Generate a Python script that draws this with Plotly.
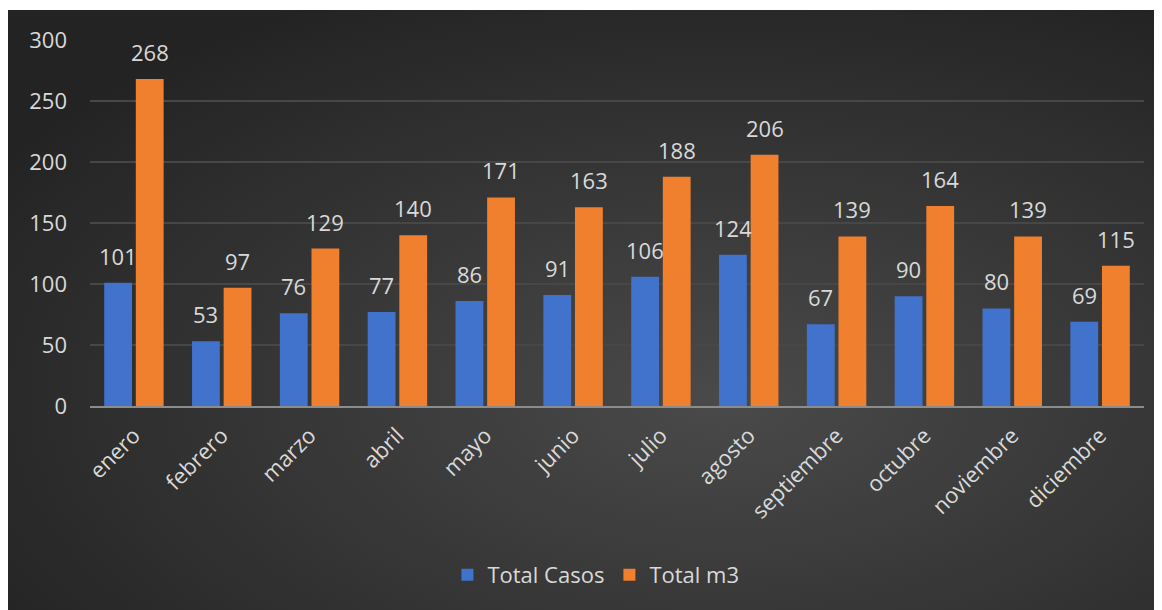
import base64
import plotly.graph_objects as go

meses = ["enero", "febrero", "marzo", "abril", "mayo", "junio", "julio",
         "agosto", "septiembre", "octubre", "noviembre", "diciembre"]
total_casos = [101, 53, 76, 77, 86, 91, 106, 124, 67, 90, 80, 69]
total_m3 = [268, 97, 129, 140, 171, 163, 188, 206, 139, 164, 139, 115]

txt = "#d9d9d9"
fnt = "Open Sans, Lato, sans-serif"

# tamaño de la figura (la página añade 8 px de margen)
W, H = 1154, 602
L, T, R, B = 82, 32, 18, 204
pw, ph = W - L - R, H - T - B

# fondo con degradado radial (como el estilo oscuro de Excel)
svg = """<svg xmlns='http://www.w3.org/2000/svg' width='1154' height='600'>
<defs><radialGradient id='g' cx='62%' cy='65%' r='75%'>
<stop offset='0%' stop-color='#4a4a4a'/><stop offset='100%' stop-color='#232323'/>
</radialGradient></defs><rect width='1154' height='600' fill='url(#g)'/></svg>"""
bg = "data:image/svg+xml;base64," + base64.b64encode(svg.encode()).decode()

fig = go.Figure()
fig.add_trace(go.Bar(x=meses, y=total_casos, name="Total Casos",
                     marker=dict(color="#4172cc", line=dict(width=0))))
fig.add_trace(go.Bar(x=meses, y=total_m3, name="Total m3",
                     marker=dict(color="#f07f2e", line=dict(width=0))))

# etiquetas de datos sobre cada barra
slot = (1 - 0.28) * pw / len(meses) / 2
for serie, dx in ((total_casos, -slot / 2), (total_m3, slot / 2)):
    for m, v in zip(meses, serie):
        fig.add_annotation(x=m, y=v, text=str(v), showarrow=False,
                           xshift=dx, yshift=27, yanchor="middle",
                           font=dict(size=22, color=txt, family=fnt))

fig.add_layout_image(dict(
    source=bg, xref="paper", yref="paper",
    x=-L / pw, y=(T + ph - 2) / ph,
    sizex=W / pw, sizey=600 / ph,
    sizing="stretch", xanchor="left", yanchor="top", layer="below",
))

fig.update_layout(
    width=W, height=H,
    margin=dict(l=L, r=R, t=T, b=B),
    paper_bgcolor="white", plot_bgcolor="rgba(0,0,0,0)",
    font=dict(family=fnt, size=22, color=txt),
    barmode="group", bargap=0.28, bargroupgap=0.12,
    showlegend=True,
    legend=dict(orientation="h", x=0.48, xanchor="center",
                y=(398 - 567) / ph, yanchor="middle", itemwidth=30,
                font=dict(size=22, color=txt), bgcolor="rgba(0,0,0,0)"),
)
fig.update_yaxes(range=[0, 300], dtick=50, showgrid=True,
                 gridcolor="#474747", gridwidth=1.5, zeroline=False,
                 tickfont=dict(size=22, color=txt), ticklabelstandoff=22)
fig.update_xaxes(tickangle=-45, showline=True, linecolor="#8c8c8c",
                 linewidth=2, tickfont=dict(size=22, color=txt),
                 ticklabelstandoff=6)

fig.write_html("out.html")
